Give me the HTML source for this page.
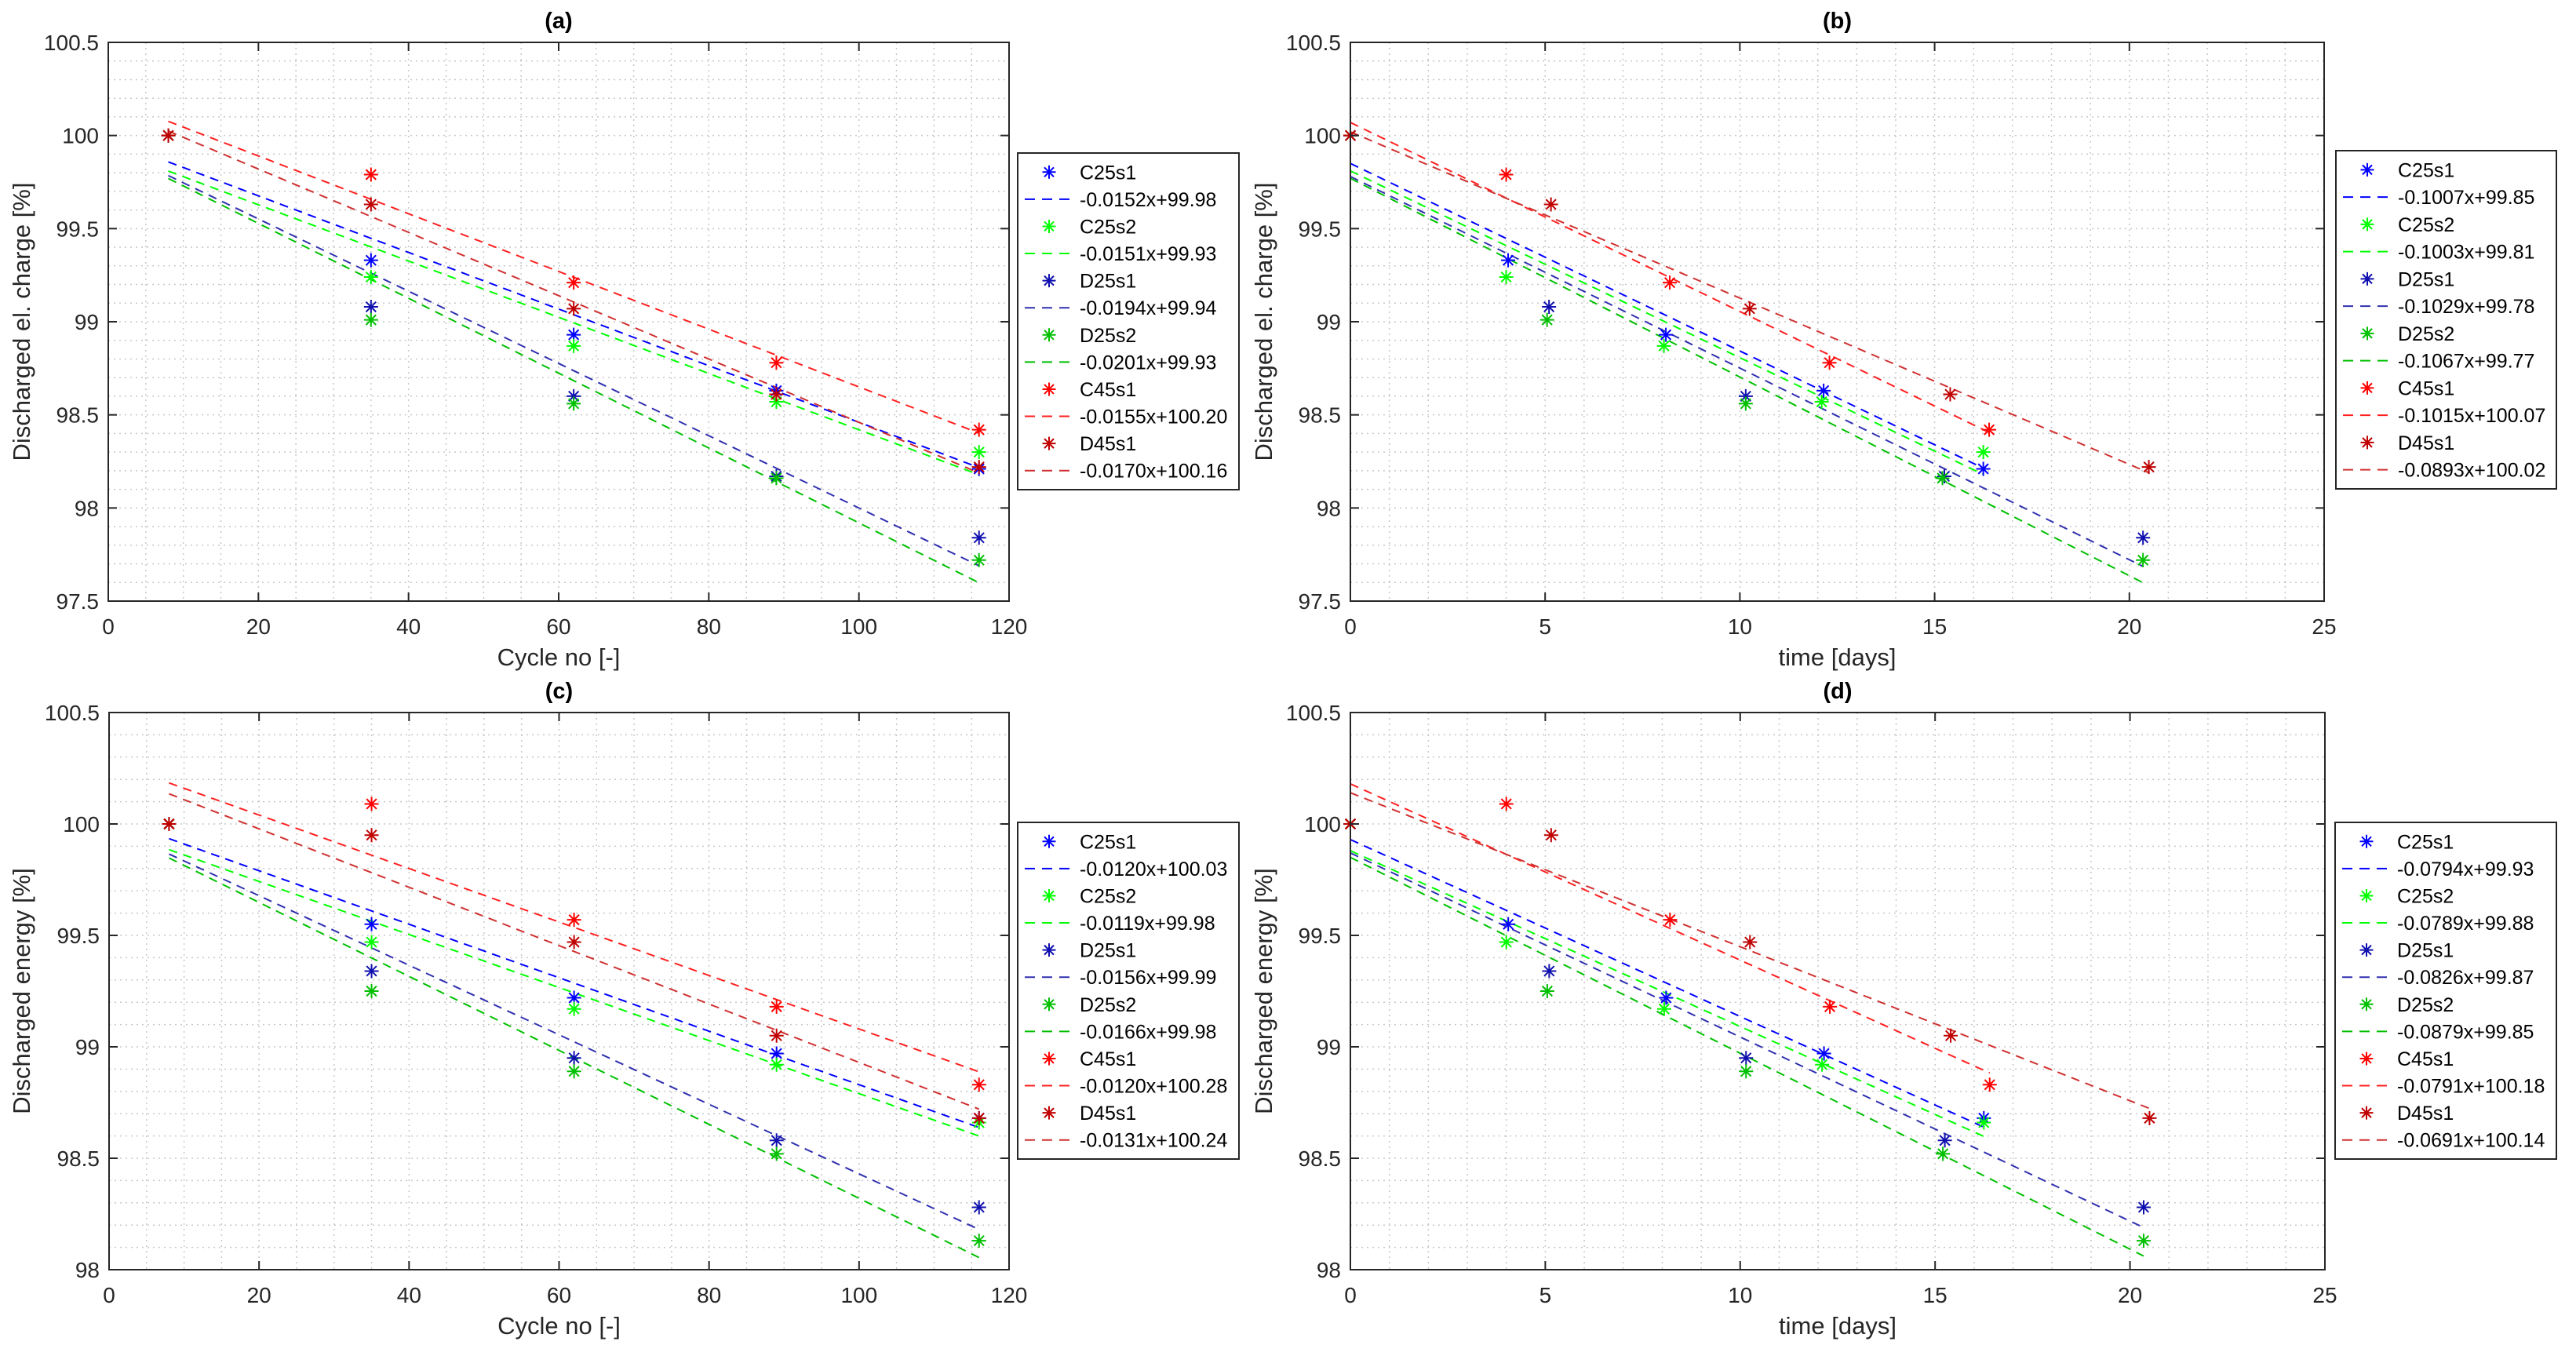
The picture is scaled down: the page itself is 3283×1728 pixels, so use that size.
<!DOCTYPE html>
<html><head><meta charset="utf-8"><style>
html,body{margin:0;padding:0;background:#fff;}
svg{display:block;font-family:"Liberation Sans",Arial,sans-serif;}
</style></head><body>
<svg id="fig" width="3283" height="1728" viewBox="0 0 3283 1728" xmlns="http://www.w3.org/2000/svg"></svg>
<script>
// ---- data ----
const seriesNames = ["C25s1","C25s2","D25s1","D25s2","C45s1","D45s1"];
const cycles = [8,35,62,89,116];
const timeC25s1 = [0,4.05,8.1,12.15,16.25];
const timeC25s2 = [0,4.0,8.05,12.1,16.25];
const timeD25s1 = [0,5.1,10.15,15.25,20.35];
const timeD25s2 = [0,5.05,10.15,15.2,20.35];
const timeC45s1 = [0,4.0,8.2,12.3,16.4];
const timeD45s1 = [0,5.15,10.25,15.4,20.5];
// discharged el. charge
const chgC25s1 = [100,99.33,98.93,98.63,98.21];
const chgC25s2 = [100,99.24,98.87,98.57,98.30];
const chgD25s1 = [100,99.08,98.60,98.17,97.84];
const chgD25s2 = [100,99.01,98.56,98.16,97.72];
const chgC45s1 = [100,99.79,99.21,98.78,98.42];
const chgD45s1 = [100,99.63,99.07,98.61,98.22];
// discharged energy
const enC25s1 = [100,99.55,99.22,98.97,98.68];
const enC25s2 = [100,99.47,99.17,98.92,98.66];
const enD25s1 = [100,99.34,98.95,98.58,98.28];
const enD25s2 = [100,99.25,98.89,98.52,98.13];
const enC45s1 = [100,100.09,99.57,99.18,98.83];
const enD45s1 = [100,99.95,99.47,99.05,98.68];
// fit coefficients
const slopeA = [-0.0152,-0.0151,-0.0194,-0.0201,-0.0155,-0.0170];
const interA = [99.98,99.93,99.94,99.93,100.20,100.16];
const slopeB = [-0.1007,-0.1003,-0.1029,-0.1067,-0.1015,-0.0893];
const interB = [99.85,99.81,99.78,99.77,100.07,100.02];
const slopeC = [-0.0120,-0.0119,-0.0156,-0.0166,-0.0120,-0.0131];
const interC = [100.03,99.98,99.99,99.98,100.28,100.24];
const slopeD = [-0.0794,-0.0789,-0.0826,-0.0879,-0.0791,-0.0691];
const interD = [99.93,99.88,99.87,99.85,100.18,100.14];
const yTicksTop = ["97.5","98","98.5","99","99.5","100","100.5"];
const yTicksBot = ["98","98.5","99","99.5","100","100.5"];
const xTicksCycle = ["0","20","40","60","80","100","120"];
const xTicksTime = ["0","5","10","15","20","25"];

const markerColors = ["#0000ff","#00ff00","#1010b0","#00c000","#ff0000","#c00000"];
const lineColors = ["#0000ff","#00ff00","#3030b0","#00c000","#ff2020","#d03030"];

const NS="http://www.w3.org/2000/svg";
const svg=document.getElementById('fig');
function el(tag,attrs,parent){const e=document.createElementNS(NS,tag);for(const k in attrs)e.setAttribute(k,attrs[k]);(parent||svg).appendChild(e);return e;}

function drawPanel(cfg){
  const g=el('g',{});
  
  
  const L=cfg.box[0],R=cfg.box[1],T=cfg.box[2],B=cfg.box[3];
  const xs=v=>L+(v-cfg.xmin)/(cfg.xmax-cfg.xmin)*(R-L);
  const ys=v=>B-(v-cfg.ymin)/(cfg.ymax-cfg.ymin)*(B-T);
  el('rect',{x:L,y:T,width:R-L,height:B-T,fill:'#fff'},g);
  // minor grid
  const grid=el('g',{stroke:'#c8c8c8','stroke-width':1.5,'stroke-dasharray':'2,5'},g);
  
  
  for(let v=cfg.xmin+cfg.xminor; v<cfg.xmax-1e-9; v+=cfg.xminor){el('line',{x1:xs(v),x2:xs(v),y1:T,y2:B},grid);}
  for(let k=1;;k++){const v=cfg.ymin+k*0.1; if(v>cfg.ymax-1e-6)break; el('line',{x1:L,x2:R,y1:ys(v),y2:ys(v)},grid);}
  // fit lines
  for(let i=0;i<6;i++){
    const xa=cfg.xs[i], x0=xa[0], x1=xa[xa.length-1];
    const ln=el('line',{x1:xs(x0),y1:ys(cfg.slope[i]*x0+cfg.inter[i]),x2:xs(x1),y2:ys(cfg.slope[i]*x1+cfg.inter[i]),stroke:lineColors[i],'stroke-width':2,'stroke-dasharray':'11,8'},g);
    
    
  }
  // markers
  for(let i=0;i<6;i++){
    for(let j=0;j<cfg.ys[i].length;j++){
      const cx=xs(cfg.xs[i][j]),cy=ys(cfg.ys[i][j]);
      const m=el('path',{d:star(cx,cy,9),stroke:markerColors[i],'stroke-width':2,fill:'none'},g);
      
      
    }
  }
  // box & ticks
  el('rect',{x:L,y:T,width:R-L,height:B-T,fill:'none',stroke:'#262626','stroke-width':2},g);
  const tk=el('g',{stroke:'#262626','stroke-width':2},g);
  cfg.xticks.forEach(t=>{const v=parseFloat(t),x=xs(v);
    el('line',{x1:x,x2:x,y1:B,y2:B-11},tk);el('line',{x1:x,x2:x,y1:T,y2:T+11},tk);
    const tx=el('text',{x:x,y:B+42,'text-anchor':'middle','font-size':28,fill:'#262626'},g);tx.textContent=t;
    
    
  });
  cfg.yticks.forEach(t=>{const v=parseFloat(t),y=ys(v);
    el('line',{x1:L,x2:L+11,y1:y,y2:y},tk);el('line',{x1:R,x2:R-11,y1:y,y2:y},tk);
    const tx=el('text',{x:L-12,y:y+10,'text-anchor':'end','font-size':28,fill:'#262626'},g);tx.textContent=t;
    
    
  });
  const ti=el('text',{x:(L+R)/2,y:T-18,'text-anchor':'middle','font-size':29,'font-weight':'bold',fill:'#000'},g);ti.textContent=cfg.title;
  
  
  const xl=el('text',{x:(L+R)/2,y:B+82,'text-anchor':'middle','font-size':31,fill:'#262626'},g);xl.textContent=cfg.xlabel;
  
  
  const yx=cfg.ylx, yy=(T+B)/2;
  const yl=el('text',{x:yx,y:yy,'text-anchor':'middle','font-size':31,fill:'#262626',transform:`rotate(-90 ${yx} ${yy})`},g);yl.textContent=cfg.ylabel;
  
  
  // legend
  const lb=cfg.leg;
  const lg=el('g',{},g);
  
  
  el('rect',{x:lb[0],y:lb[1],width:lb[2],height:lb[3],fill:'#fff',stroke:'#262626','stroke-width':2},lg);
  const step=(lb[3]-14)/12;
  for(let i=0;i<6;i++){
    const y1=lb[1]+7+step*(2*i+0.5), y2=lb[1]+7+step*(2*i+1.5);
    el('path',{d:star(lb[0]+40,y1,8.5),stroke:markerColors[i],'stroke-width':2,fill:'none'},lg);
    const t1=el('text',{x:lb[0]+79,y:y1+9,'font-size':25,fill:'#000'},lg);t1.textContent=seriesNames[i];
    
    
    el('line',{x1:lb[0]+9,x2:lb[0]+66,y1:y2,y2:y2,stroke:lineColors[i],'stroke-width':2,'stroke-dasharray':'13,9'},lg);
    const s=cfg.slope[i].toFixed(4)+'x+'+cfg.inter[i].toFixed(2);
    const t2=el('text',{x:lb[0]+79,y:y2+9,'font-size':25,fill:'#000'},lg);t2.textContent=s;
    
    
  }
}
function star(x,y,r){const d=r*0.707;return `M${x-r} ${y}H${x+r}M${x} ${y-r}V${y+r}M${x-d} ${y-d}L${x+d} ${y+d}M${x-d} ${y+d}L${x+d} ${y-d}`;}

const cyc=[cycles,cycles,cycles,cycles,cycles,cycles];
const tim=[timeC25s1,timeC25s2,timeD25s1,timeD25s2,timeC45s1,timeD45s1];
const chg=[chgC25s1,chgC25s2,chgD25s1,chgD25s2,chgC45s1,chgD45s1];
const en=[enC25s1,enC25s2,enD25s1,enD25s2,enC45s1,enD45s1];

drawPanel({id:'panel-a',box:[138,1286,54,766],xmin:0,xmax:120,ymin:97.5,ymax:100.5,xminor:5,xticks:xTicksCycle,yticks:yTicksTop,xs:cyc,ys:chg,slope:slopeA,inter:interA,title:'(a)',xlabel:'Cycle no [-]',ylabel:'Discharged el. charge [%]',ylx:38,leg:[1297,195,282,429]});
drawPanel({id:'panel-b',box:[1721,2962,54,766],xmin:0,xmax:25,ymin:97.5,ymax:100.5,xminor:1,xticks:xTicksTime,yticks:yTicksTop,xs:tim,ys:chg,slope:slopeB,inter:interB,title:'(b)',xlabel:'time [days]',ylabel:'Discharged el. charge [%]',ylx:1621,leg:[2977,192,281,431]});
drawPanel({id:'panel-c',box:[139,1286,908,1618],xmin:0,xmax:120,ymin:98,ymax:100.5,xminor:5,xticks:xTicksCycle,yticks:yTicksBot,xs:cyc,ys:en,slope:slopeC,inter:interC,title:'(c)',xlabel:'Cycle no [-]',ylabel:'Discharged energy [%]',ylx:38,leg:[1297,1048,282,429]});
drawPanel({id:'panel-d',box:[1721,2963,908,1618],xmin:0,xmax:25,ymin:98,ymax:100.5,xminor:1,xticks:xTicksTime,yticks:yTicksBot,xs:tim,ys:en,slope:slopeD,inter:interD,title:'(d)',xlabel:'time [days]',ylabel:'Discharged energy [%]',ylx:1621,leg:[2976,1048,282,429]});
</script>
</body></html>
